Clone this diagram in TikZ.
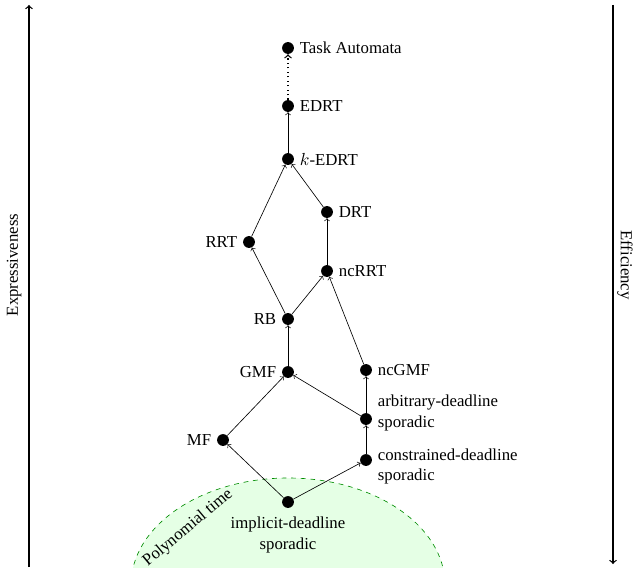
\documentclass[tikz,border=0pt]{standalone}
\usepackage{fontspec}
\setmainfont{Liberation Serif}
\usetikzlibrary{positioning}
\begin{document}
\begin{tikzpicture}[
    x=0.022cm, y=0.022cm,
    font=\fontsize{10.5pt}{13pt}\selectfont,
    model/.style={
      circle,
      fill,
      inner sep=0pt,
      minimum size=0.26cm
    },
    axis/.style={
      thick,
      ->
    }
  ]
  \useasboundingbox (0,0) rectangle (634,567);
  % zone polynomiale
  \begin{scope}
    \clip (0,0) rectangle (634,567);
    \draw[dashed, green!55!black, fill=green!10] (288,-18) ellipse [x radius=157, y radius=107];
  \end{scope}
  \node[rotate=40] (poly) at (188,39) {Polynomial time};

  % axes
  \coordinate (exlow) at (29,0);
  \coordinate (exhigh) at (29,562);
  \coordinate (efhigh) at (613,562);
  \coordinate (eflow) at (613,3);
  \draw[axis] (exlow) -- (exhigh);
  \draw[axis] (efhigh) -- (eflow);
  \node[rotate=90] (expr) at (14,302) {Expressiveness};
  \node[rotate=-90] (effi) at (625,302) {Efficiency};

  % modeles
  \node[model, label={[align=center, yshift=-2pt]below:implicit-deadline\\sporadic}] (ids) at (288,65) {};
  \node[model, label={[align=left, yshift=-4pt]right:constrained-deadline\\sporadic}] (cds) at (366,107) {};
  \node[model, label=left:MF] (mf) at (223,127) {};
  \node[model, label={[align=left, yshift=4pt]right:arbitrary-deadline\\sporadic}] (ads) at (366,148) {};
  \node[model, label=left:GMF] (gmf) at (288,195) {};
  \node[model, label=right:ncGMF] (ncgmf) at (366,197) {};
  \node[model, label=left:RB] (rb) at (288,248) {};
  \node[model, label=right:ncRRT] (ncrrt) at (327,296) {};
  \node[model, label=left:RRT] (rrt) at (249,325) {};
  \node[model, label=right:DRT] (drt) at (327,355) {};
  \node[model, label=right:{$k$-EDRT}] (kedrt) at (288,408) {};
  \node[model, label=right:EDRT] (edrt) at (288,461) {};
  \node[model, label=right:Task Automata] (ta) at (288,519) {};

  \draw[->] (ids) -- (mf);
  \draw[->] (ids) -- (cds);
  \draw[->] (cds) -- (ads);
  \draw[->] (mf) -- (gmf);
  \draw[->] (ads) -- (gmf);
  \draw[->] (ads) -- (ncgmf);
  \draw[->] (gmf) -- (rb);
  \draw[->] (rb) -- (rrt);
  \draw[->] (rb) -- (ncrrt);
  \draw[->] (ncgmf) -- (ncrrt);
  \draw[->] (ncrrt) -- (drt);
  \draw[->] (rrt) -- (kedrt);
  \draw[->] (drt) -- (kedrt);
  \draw[->] (kedrt) -- (edrt);
  \draw[->, dotted, thick] (edrt) -- (ta);

\end{tikzpicture}
\end{document}
